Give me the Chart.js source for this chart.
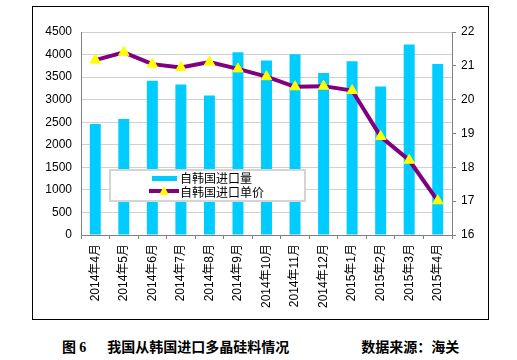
<!DOCTYPE html>
<html lang="zh">
<head>
  <meta charset="UTF-8" />
  <title>我国从韩国进口多晶硅料情况</title>
  <script src="https://cdn.jsdelivr.net/npm/chart.js"></script>
  <style>
    body { margin: 0; background: #fff; width: 517px; height: 360px; position: relative; }
    #box { position: absolute; left: 32px; top: 6px; width: 455px; height: 312px; border: 1px solid #000; }
    #caption { position: absolute; left: 62px; top: 336px; font: bold 14px "Noto Sans CJK SC", sans-serif; white-space: nowrap; color: #000; }
    #caption .num { font-family: "Liberation Serif", serif; }
  </style>
</head>
<body>
  <div id="box"><canvas id="chart" width="455" height="312"></canvas></div>
  <div id="caption">图 <span class="num">6</span><span style="margin-left:21px">我国从韩国进口多晶硅料情况</span><span style="margin-left:72px">数据来源：海关</span></div>

  <script>
    // data
    const months = ['2014年4月', '2014年5月', '2014年6月', '2014年7月', '2014年8月', '2014年9月',
      '2014年10月', '2014年11月', '2014年12月', '2015年1月', '2015年2月', '2015年3月', '2015年4月'];
    const volume = [2460, 2570, 3420, 3335, 3090, 4050, 3870, 4005, 3590, 3850, 3290, 4225, 3790];
    const price = [21.17, 21.40, 21.05, 20.95, 21.11, 20.91, 20.68, 20.38, 20.40, 20.27, 18.91, 18.21, 17.01];
    const leftTicks = { min: 0, max: 4500, step: 500 };
    const rightTicks = { min: 16, max: 22, step: 1 };
    const volumeLabel = '自韩国进口量';
    const priceLabel = '自韩国进口单价';

    const font = { family: '"Liberation Sans", "Noto Sans CJK SC", sans-serif', size: 12 };

    // legend box sits inside the plot
    const legendBox = {
      id: 'legendBox',
      afterDraw(chart) {
        const ctx = chart.ctx;
        const a = chart.chartArea;
        const x = a.left + 29, y = a.top + 138, w = 195, h = 31;
        ctx.save();
        ctx.fillStyle = '#fff';
        ctx.fillRect(x, y, w, h);
        ctx.strokeStyle = '#d4d4d4';
        ctx.lineWidth = 2;
        ctx.strokeRect(x, y, w, h);
        // bar swatch
        ctx.fillStyle = '#00ccff';
        ctx.fillRect(x + 42, y + 6, 25, 5);
        // line swatch
        ctx.strokeStyle = '#800080';
        ctx.lineWidth = 4;
        ctx.beginPath();
        ctx.moveTo(x + 39, y + 21);
        ctx.lineTo(x + 69, y + 21);
        ctx.stroke();
        ctx.fillStyle = '#ffff00';
        ctx.beginPath();
        ctx.moveTo(x + 54, y + 16);
        ctx.lineTo(x + 59, y + 25);
        ctx.lineTo(x + 49, y + 25);
        ctx.closePath();
        ctx.fill();
        ctx.fillStyle = '#000';
        ctx.font = '12px "Noto Sans CJK SC", sans-serif';
        ctx.textBaseline = 'middle';
        ctx.fillText(volumeLabel, x + 70, y + 8);
        ctx.fillText(priceLabel, x + 70, y + 22);
        ctx.restore();
      }
    };

    new Chart(document.getElementById('chart').getContext('2d'), {
      data: {
        labels: months,
        datasets: [
          {
            type: 'line',
            label: priceLabel,
            data: price,
            yAxisID: 'y1',
            order: 0,
            borderColor: '#800080',
            borderWidth: 4,
            tension: 0,
            pointStyle: 'triangle',
            pointRadius: 6,
            pointBackgroundColor: '#ffff00',
            pointBorderColor: '#ffff00',
            pointBorderWidth: 1
          },
          {
            type: 'bar',
            label: volumeLabel,
            data: volume,
            yAxisID: 'y',
            order: 1,
            backgroundColor: '#00ccff',
            categoryPercentage: 0.8,
            barPercentage: 0.48
          }
        ]
      },
      options: {
        responsive: false,
        animation: false,
        layout: { padding: { top: 25, left: 0, right: 0, bottom: 0 } },
        plugins: { legend: { display: false }, tooltip: { enabled: false } },
        scales: {
          x: {
            offset: true,
            grid: { offset: true, drawOnChartArea: false, drawTicks: true, tickLength: 4, color: '#808080' },
            border: { color: '#808080', width: 1 },
            ticks: { font: font, color: '#000', minRotation: 90, maxRotation: 90, padding: 5, autoSkip: false },
            afterFit(s) { s.height = 84; }
          },
          y: {
            position: 'left',
            min: leftTicks.min,
            max: leftTicks.max,
            grid: { color: '#d0d0d0', drawTicks: false },
            border: { color: '#808080', width: 1 },
            ticks: { stepSize: leftTicks.step, font: font, color: '#000', padding: 9, callback: v => String(v) },
            afterFit(s) { s.width = 48; }
          },
          y1: {
            position: 'right',
            min: rightTicks.min,
            max: rightTicks.max,
            grid: { drawOnChartArea: false, drawTicks: true, tickLength: 4, color: '#808080' },
            border: { color: '#808080', width: 1 },
            ticks: { stepSize: rightTicks.step, font: font, color: '#000', padding: 5 },
            afterFit(s) { s.width = 36; }
          }
        }
      },
      plugins: [legendBox]
    });
  </script>
</body>
</html>
